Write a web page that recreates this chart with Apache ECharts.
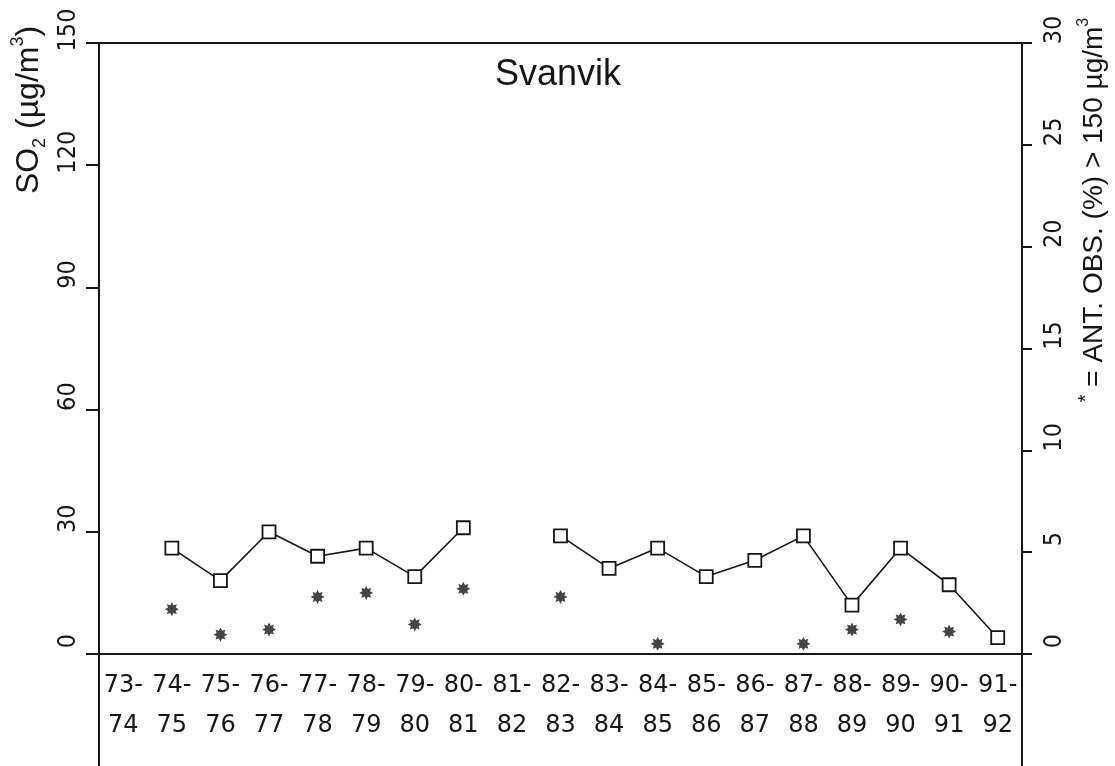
<!DOCTYPE html>
<html>
<head>
<meta charset="utf-8">
<script src="https://cdn.jsdelivr.net/npm/echarts@6/dist/echarts.min.js"></script>
<style>
  html, body { margin: 0; padding: 0; background: #fff; }
  #chart { width: 1115px; height: 766px; }
</style>
</head>
<body>
<div id="chart"></div>
<script>
// vintersesonger
const seasons = ['73-74', '74-75', '75-76', '76-77', '77-78', '78-79', '79-80', '80-81', '81-82', '82-83',
  '83-84', '84-85', '85-86', '86-87', '87-88', '88-89', '89-90', '90-91', '91-92'];
// SO2 middel (µg/m3), venstre akse
const so2Mean = [null, 26, 18, 30, 24, 26, 19, 31, null, 29, 21, 26, 19, 23, 29, 12, 26, 17, 4];
// antall obs. (%) > 150 µg/m3, høyre akse
const obsOver150 = [null, 2.2, 0.95, 1.2, 2.8, 3.0, 1.45, 3.2, null, 2.8, null, 0.5, null, null, 0.5, 1.2, 1.7, 1.1, null];
const leftTicks = [0, 30, 60, 90, 120, 150];
const rightTicks = [0, 5, 10, 15, 20, 25, 30];

const ink = '#161616';
const starPath = 'path://M10 0 L5.5 2.3 L7.07 7.07 L2.3 5.5 L0 10 L-2.3 5.5 L-7.07 7.07 L-5.5 2.3 L-10 0 L-5.5 -2.3 L-7.07 -7.07 L-2.3 -5.5 L0 -10 L2.3 -5.5 L7.07 -7.07 L5.5 -2.3 Z';

const chart = echarts.init(document.getElementById('chart'));

const yLabel = {
  rotate: 90,
  color: ink,
  fontSize: 25,
  fontFamily: '"Liberation Sans Narrow", "DejaVu Sans Condensed", sans-serif',
  padding: [0, 0, 0, 26]
};

const option = {
  backgroundColor: '#fff',
  animation: false,
  title: {
    text: 'Svanvik',
    left: 490,
    top: 52,
    textStyle: { fontSize: 36, fontWeight: 'normal', color: ink, fontFamily: '"Liberation Sans", Arial, sans-serif' }
  },
  grid: [
    { left: 99, right: 93, top: 43, bottom: 112 },
    { left: 99, right: 93, top: 654, bottom: 0 }
  ],
  xAxis: [
    {
      type: 'category',
      gridIndex: 0,
      data: seasons,
      boundaryGap: true,
      axisLine: { onZero: false, lineStyle: { color: ink, width: 2 } },
      axisTick: { alignWithLabel: true, length: 17, lineStyle: { color: ink, width: 2 } },
      axisLabel: {
        interval: 0,
        margin: 12,
        lineHeight: 40,
        fontSize: 24,
        color: ink,
        fontFamily: '"DejaVu Sans", sans-serif',
        formatter: v => v.replace('-', '-\n')
      }
    },
    {
      // ramme øverst
      type: 'category',
      gridIndex: 0,
      position: 'top',
      data: seasons,
      axisLine: { onZero: false, lineStyle: { color: ink, width: 2 } },
      axisTick: { show: false },
      axisLabel: { show: false }
    },
    { type: 'category', gridIndex: 1, data: seasons, show: false }
  ],
  yAxis: [
    {
      type: 'value',
      gridIndex: 0,
      position: 'left',
      min: leftTicks[0],
      max: leftTicks[leftTicks.length - 1],
      interval: leftTicks[1] - leftTicks[0],
      axisLine: { show: true, lineStyle: { color: ink, width: 2 } },
      axisTick: { show: true, length: 13, lineStyle: { color: ink, width: 2 } },
      axisLabel: Object.assign({ margin: 18 }, yLabel),
      splitLine: { show: false }
    },
    {
      type: 'value',
      gridIndex: 0,
      position: 'right',
      min: rightTicks[0],
      max: rightTicks[rightTicks.length - 1],
      interval: rightTicks[1] - rightTicks[0],
      axisLine: { show: true, lineStyle: { color: ink, width: 2 } },
      axisTick: { show: true, length: 10, lineStyle: { color: ink, width: 2 } },
      axisLabel: Object.assign({ margin: 20 }, yLabel),
      splitLine: { show: false }
    },
    // aksene fortsetter under x-aksen
    {
      type: 'value', gridIndex: 1, position: 'left', min: 0, max: 1,
      axisLine: { show: true, lineStyle: { color: ink, width: 2 } },
      axisTick: { show: false }, axisLabel: { show: false }, splitLine: { show: false }
    },
    {
      type: 'value', gridIndex: 1, position: 'right', min: 0, max: 1,
      axisLine: { show: true, lineStyle: { color: ink, width: 2 } },
      axisTick: { show: false }, axisLabel: { show: false }, splitLine: { show: false }
    }
  ],
  graphic: [
    {
      type: 'text',
      x: 29, y: 110,
      rotation: Math.PI / 2,
      style: {
        text: 'SO{sub|2} (µg/m{sup|3})',
        align: 'center',
        verticalAlign: 'middle',
        fill: ink,
        font: '32px "Liberation Sans", Arial, sans-serif',
        lineHeight: 40,
        rich: {
          sub: { fontSize: 18, lineHeight: 18, verticalAlign: 'bottom', fill: ink },
          sup: { fontSize: 18, lineHeight: 18, verticalAlign: 'top', fill: ink }
        }
      }
    },
    {
      type: 'text',
      x: 1094, y: 210,
      rotation: Math.PI / 2,
      style: {
        text: '{star|*} = ANT. OBS. (%) > 150 µg/m{sup|3}',
        align: 'center',
        verticalAlign: 'middle',
        fill: ink,
        font: '28px "Liberation Sans", Arial, sans-serif',
        lineHeight: 36,
        rich: {
          star: { fontSize: 20, lineHeight: 20, verticalAlign: 'top', fill: ink },
          sup: { fontSize: 16, lineHeight: 16, verticalAlign: 'top', fill: ink }
        }
      }
    }
  ],
  series: [
    {
      name: 'SO2',
      type: 'line',
      xAxisIndex: 0,
      yAxisIndex: 0,
      data: so2Mean,
      connectNulls: false,
      symbol: 'rect',
      symbolSize: 13,
      showAllSymbol: true,
      lineStyle: { color: ink, width: 1.6 },
      itemStyle: { color: '#fff', borderColor: ink, borderWidth: 1.8 },
      z: 3
    },
    {
      name: 'Ant. obs. > 150',
      type: 'scatter',
      xAxisIndex: 0,
      yAxisIndex: 1,
      data: obsOver150,
      symbol: starPath,
      symbolSize: 14,
      itemStyle: { color: ink },
      z: 2
    }
  ]
};

chart.setOption(option);
</script>
</body>
</html>
